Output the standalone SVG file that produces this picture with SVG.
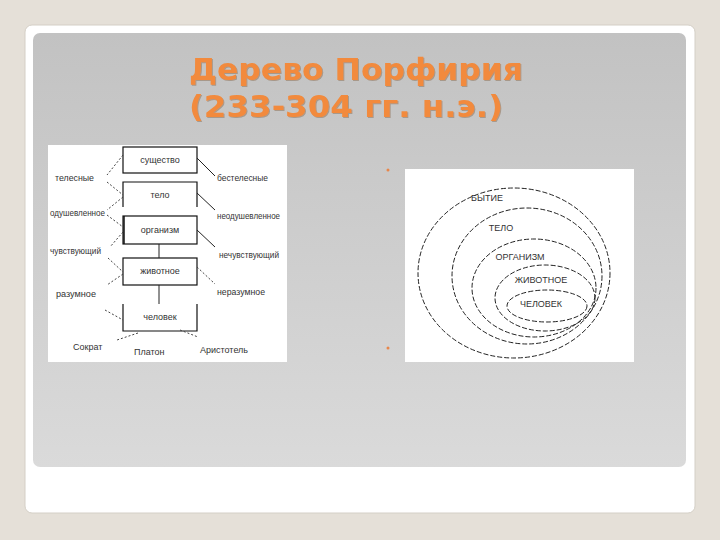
<svg xmlns="http://www.w3.org/2000/svg" width="720" height="540" viewBox="0 0 720 540">
<defs>
<linearGradient id="panel" x1="0" y1="0" x2="0" y2="1">
<stop offset="0" stop-color="#c2c2c2"/>
<stop offset="1" stop-color="#dadada"/>
</linearGradient>
<filter id="sh" x="-5%" y="-5%" width="110%" height="110%">
<feDropShadow dx="1" dy="1" stdDeviation="0.6" flood-color="#8a6a50" flood-opacity="0.5"/>
</filter>
</defs>
<style>
.title{font-family:"DejaVu Sans",Verdana,sans-serif;font-weight:bold;font-size:30px;fill:#f28a3c}
.t{font-family:"Liberation Sans",Arial,sans-serif;font-size:9px;fill:#333}
.tc{font-family:"Liberation Sans",Arial,sans-serif;font-size:9px;fill:#333;text-anchor:middle}
.box{fill:none;stroke:#111;stroke-width:1.2}
.sl{fill:none;stroke:#222;stroke-width:1}
.dl{fill:none;stroke:#444;stroke-width:1;stroke-dasharray:2 2}
.el{fill:none;stroke:#222;stroke-width:1;stroke-dasharray:5 2}
</style>
<rect width="720" height="540" fill="#e5e0d8"/>
<rect x="25" y="25" width="670" height="488" rx="7" fill="#ffffff" stroke="#d4cfc6" stroke-width="1"/>
<rect x="33" y="33" width="653" height="434" rx="7" fill="url(#panel)"/>
<g id="title" filter="url(#sh)">
<text class="title" x="189" y="80" textLength="334" lengthAdjust="spacingAndGlyphs">Дерево Порфирия</text>
<text class="title" x="189" y="117" textLength="314" lengthAdjust="spacingAndGlyphs">(233-304 гг. н.э.)</text>
</g>
<g id="bullets" fill="#e8864a">
<circle cx="388" cy="170" r="1.5"/>
<circle cx="388" cy="348" r="1.5"/>
</g>
<g id="tree">
<rect x="48" y="145" width="239" height="217" fill="#ffffff"/>
<g id="n-sushchestvo"><rect class="box" x="123" y="147" width="74" height="26"/><text class="tc" x="160" y="163">существо</text></g>
<g id="n-telo"><path class="box" d="M123,207 V182 H197 V207"/><text class="tc" x="160" y="198">тело</text></g>
<g id="n-organizm"><rect class="box" x="123" y="216" width="74" height="28"/><line x1="124" y1="216" x2="124" y2="244" stroke="#111" stroke-width="1.5"/><text class="tc" x="160" y="233">организм</text></g>
<g id="n-zhivotnoe"><rect class="box" x="123" y="258" width="74" height="27"/><text class="tc" x="160" y="274">животное</text></g>
<g id="n-chelovek"><path class="box" d="M123,304 V331 H197 V304"/><text class="tc" x="160" y="320">человек</text></g>
<g id="tree-labels">
<text class="t" x="55" y="181" textLength="39" lengthAdjust="spacingAndGlyphs">телесные</text>
<text class="t" x="217" y="181" textLength="51" lengthAdjust="spacingAndGlyphs">бестелесные</text>
<text class="t" x="50" y="216" textLength="55" lengthAdjust="spacingAndGlyphs">одушевленное</text>
<text class="t" x="217" y="219" textLength="63" lengthAdjust="spacingAndGlyphs">неодушевленное</text>
<text class="t" x="50" y="254" textLength="51" lengthAdjust="spacingAndGlyphs">чувствующий</text>
<text class="t" x="219" y="258" textLength="60" lengthAdjust="spacingAndGlyphs">нечувствующий</text>
<text class="t" x="56" y="297" textLength="40" lengthAdjust="spacingAndGlyphs">разумное</text>
<text class="t" x="217" y="295" textLength="48" lengthAdjust="spacingAndGlyphs">неразумное</text>
<text class="t" x="73" y="350">Сократ</text>
<text class="t" x="134" y="355">Платон</text>
<text class="t" x="200" y="353">Аристотель</text>
</g>
<g id="tree-connectors">
<line class="sl" x1="159" y1="244" x2="159" y2="258"/>
<line class="sl" x1="159" y1="285" x2="159" y2="304"/>
<line class="sl" x1="197" y1="158" x2="215" y2="176"/>
<line class="sl" x1="197" y1="193" x2="215" y2="210"/>
<line class="sl" x1="197" y1="230" x2="215" y2="247"/>
<line class="dl" x1="197" y1="267" x2="215" y2="284"/>
<line class="dl" x1="180" y1="330" x2="198" y2="337"/>
<line class="dl" x1="123" y1="155" x2="107" y2="175"/>
<line class="dl" x1="107" y1="182" x2="123" y2="195"/>
<line class="dl" x1="123" y1="197" x2="107" y2="210"/>
<line class="dl" x1="107" y1="215" x2="123" y2="227"/>
<line class="dl" x1="123" y1="232" x2="110" y2="247"/>
<line class="dl" x1="108" y1="258" x2="123" y2="272"/>
<line class="dl" x1="123" y1="274" x2="107" y2="285"/>
<line class="dl" x1="105" y1="310" x2="123" y2="320"/>
<line class="dl" x1="138" y1="333" x2="117" y2="340"/>
</g>
</g>
<g id="circles">
<rect x="405" y="169" width="229" height="193" fill="#ffffff"/>
<g id="c-bytie"><ellipse class="el" cx="514" cy="273" rx="96" ry="85"/><text class="tc" x="487" y="201" font-size="8">БЫТИЕ</text></g>
<g id="c-telo"><ellipse class="el" cx="527" cy="276" rx="75" ry="68"/><text class="tc" x="501" y="231" font-size="8">ТЕЛО</text></g>
<g id="c-organizm"><ellipse class="el" cx="534" cy="288" rx="62" ry="49"/><text class="tc" x="520" y="260" font-size="8">ОРГАНИЗМ</text></g>
<g id="c-zhivotnoe"><ellipse class="el" cx="545" cy="298" rx="50" ry="33"/><text class="tc" x="541" y="283" font-size="8">ЖИВОТНОЕ</text></g>
<g id="c-chelovek"><ellipse class="el" cx="547" cy="306" rx="40" ry="16"/><text class="tc" x="541" y="307" font-size="8">ЧЕЛОВЕК</text></g>
</g>
</svg>
